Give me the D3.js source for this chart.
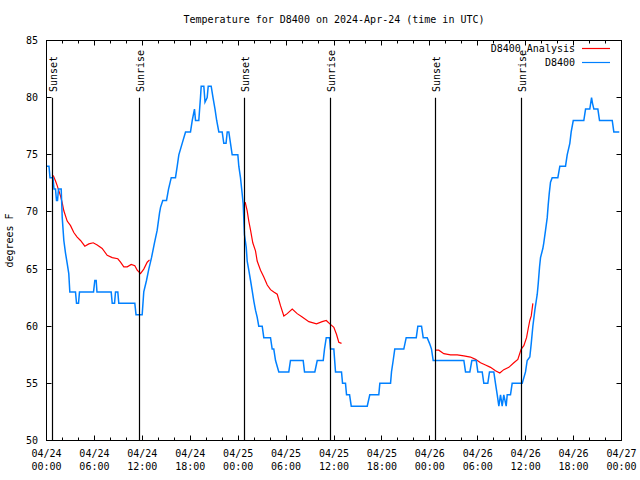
<!DOCTYPE html>
<html><head><meta charset="utf-8">
<script src="https://cdn.jsdelivr.net/npm/d3@7"></script>
<style>
body{margin:0;background:#fff}
svg{display:block}
text{font-family:"DejaVu Sans Mono","Liberation Mono",monospace;font-size:10px;fill:#000}
</style>
</head><body>
<svg id="chart" width="640" height="480"></svg>
<script>
// ---------- data ----------
const chartTitle = "Temperature for D8400 on 2024-Apr-24 (time in UTC)";
const yAxisLabel = "degrees F";
const timeStart = "2024-04-24T00:00:00Z";
const timeEnd = "2024-04-27T00:00:00Z";
const yDomain = [50, 85];
const yTickValues = [50, 55, 60, 65, 70, 75, 80, 85];
const seriesNames = ["D8400_Analysis", "D8400"];
const seriesColors = ["#ff0000", "#0080ff"];

// observed D8400 temperatures (hours since 04/24 00:00 UTC, deg F)
const obsHours = [0.00,0.31,0.44,0.81,0.94,1.13,1.25,1.38,1.50,1.84,1.97,2.17,2.38,2.59,2.79,2.92,3.63,3.76,4.01,4.13,
  5.89,6.05,6.22,6.32,8.10,8.23,8.52,8.64,8.93,9.05,11.06,11.21,11.98,12.18,12.52,12.81,13.15,13.52,13.86,14.15,
  14.28,14.56,15.03,15.28,15.62,16.15,16.37,16.57,16.99,17.41,18.03,18.25,18.53,18.66,19.07,19.28,19.37,19.70,19.85,20.12,
  20.25,20.62,20.85,21.10,21.31,21.58,22.00,22.20,22.48,22.63,22.83,23.04,23.25,23.96,24.08,24.29,24.50,24.63,24.79,25.01,
  25.13,25.33,25.55,25.76,25.96,26.17,26.38,26.58,27.01,27.21,28.05,28.26,28.46,28.68,29.09,30.34,30.55,32.14,32.31,33.60,
  33.90,34.65,34.81,35.03,35.44,35.56,35.98,36.19,36.94,37.07,37.44,37.57,37.95,38.16,40.16,40.48,41.61,41.74,43.08,43.20,
  43.41,43.61,44.74,45.04,46.30,46.50,46.96,47.17,47.67,47.96,48.21,48.42,52.26,52.47,53.01,53.26,53.81,54.01,54.56,54.76,
  55.26,55.47,56.01,56.22,56.44,56.64,56.85,57.06,57.26,57.56,57.69,58.10,58.31,59.57,59.98,60.19,60.52,60.70,60.90,61.15,
  61.45,61.57,61.74,61.86,62.15,62.27,62.49,62.70,62.82,62.95,63.11,63.32,64.03,64.28,64.99,65.20,65.53,65.70,65.96,67.28,
  67.50,68.03,68.25,68.37,68.54,69.04,69.25,70.84,71.04,71.72];
const obsTemps = [74,74,73,73,72,72,71,71,72,72,69.5,67.5,66.4,65.5,64.6,63,63,62,62,63,
  63,64,64,63,63,62,62,63,63,62,62,61,61,63,64,65,66,67.3,68.4,69.9,
  70.4,71,71,72,73,73,74,75,76,77,77,78,79,78,78,80,81,81,79.6,80,
  81,81,80,79,78,77,77,76,76,77,77,76,75,75,74,73,71.6,70.7,68,66.9,
  65.7,64.9,64,63.1,62.2,61.4,60.8,60,60,59,59,58,58,57,56,56,57,57,56,56,
  57,57,58,59,59,58,58,56,56,55,55,54,54,53,53,54,54,55,55,56,
  57,58,58,59,59,60,60,59,59,58.5,58,57,57,56,56,57,57,56,56,55,
  55,56,56,55,54,53,54,53,54,53,54,54,55,55,56,57,57.3,58.5,60,61.4,
  62.8,63.7,65.2,66,66.8,67.3,68.4,69.5,70.6,71.6,72.6,73,73,74,74,75,76,77,78,78,
  79,79,80,79.5,79,79,78,78,77,77];

// analysis temperatures (null = gap)
const anaHours = [0.84,1.13,1.34,1.75,1.97,2.17,2.59,3.01,3.42,3.84,4.26,4.80,5.30,5.85,6.35,6.97,7.60,8.23,8.93,9.27,
  9.68,10.11,10.61,11.06,11.36,11.77,12.18,12.61,12.90,18.0,
  24.88,25.13,25.33,25.55,25.83,26.17,26.38,26.80,27.21,27.64,28.05,28.46,28.89,29.30,29.72,30.14,30.77,31.39,32.02,32.85,
  33.81,34.52,35.03,35.48,35.98,36.31,36.60,36.94,42.0,
  48.75,49.12,49.75,50.59,51.43,52.26,53.09,53.72,54.35,54.97,55.60,56.22,56.76,57.26,57.89,58.52,59.02,59.44,59.77,60.11,
  60.32,60.52,60.70,60.90];
const anaTemps = [73.2,72.7,72.3,71.4,70.8,70.1,69.2,68.8,68.2,67.8,67.5,67.0,67.2,67.3,67.1,66.8,66.2,66.0,65.9,65.6,
  65.2,65.2,65.4,65.3,64.9,64.6,65,65.6,65.8,null,
  70.85,70.1,69.2,68.4,67.3,66.6,65.7,64.9,64.3,63.6,63.2,63.0,62.8,61.8,60.9,61.1,61.5,61.1,60.8,60.4,
  60.2,60.4,60.5,60.2,59.9,59.3,58.6,58.5,null,
  57.9,57.9,57.6,57.5,57.5,57.4,57.3,57.1,56.8,56.6,56.4,56.1,55.9,56.2,56.4,56.8,57.1,58,58.3,59,
  59.8,60.5,60.9,62];

// sunrise / sunset events
const sunTimes = ["2024-04-24T00:47:00Z","2024-04-24T11:35:00Z","2024-04-25T00:48:00Z",
                  "2024-04-25T11:30:00Z","2024-04-26T00:46:00Z","2024-04-26T11:31:00Z"];
const sunLabels = ["Sunset","Sunrise","Sunset","Sunrise","Sunset","Sunrise"];
const sunLineTop = 80;

// ---------- chart ----------
const svg = d3.select("#chart");
const L = 46.5, R = 621.5, T = 40.5, B = 440.5;
const t0 = new Date(timeStart), t1 = new Date(timeEnd);
const hourToDate = h => new Date(t0.getTime() + h * 3600e3);
const x = d3.scaleUtc().domain([t0, t1]).range([L, R]);
const y = d3.scaleLinear().domain(yDomain).range([B, T]);

// title
svg.append("text").attr("x", (L + R) / 2).attr("y", 23).attr("text-anchor", "middle").text(chartTitle);
// y label
svg.append("text").attr("transform", `translate(13,${(T + B) / 2}) rotate(-90)`)
  .attr("text-anchor", "middle").text(yAxisLabel);

const g = svg.append("g");
const majorLen = 5, minorLen = 3;

// y ticks + labels
yTickValues.forEach(v => {
  const yy = Math.round(y(v) - 0.5) + 0.5;
  g.append("line").attr("x1", L).attr("x2", L + majorLen).attr("y1", yy).attr("y2", yy).attr("stroke", "#000");
  g.append("line").attr("x1", R - majorLen).attr("x2", R).attr("y1", yy).attr("y2", yy).attr("stroke", "#000");
  g.append("text").attr("x", 38).attr("y", yy).attr("dy", "0.35em").attr("text-anchor", "end").text(v);
});

// x ticks
const minorTicks = d3.utcHour.every(2).range(t0, d3.utcHour.offset(t1, 1));
minorTicks.forEach(d => {
  const xx = Math.round(x(d) - 0.5) + 0.5;
  const major = d.getUTCHours() % 6 === 0;
  const len = major ? majorLen : minorLen;
  g.append("line").attr("x1", xx).attr("x2", xx).attr("y1", B).attr("y2", B - len).attr("stroke", "#000");
  g.append("line").attr("x1", xx).attr("x2", xx).attr("y1", T).attr("y2", T + len).attr("stroke", "#000");
});
const fmtDate = d3.utcFormat("%m/%d"), fmtTime = d3.utcFormat("%H:%M");
x.ticks(d3.utcHour.every(6)).forEach(d => {
  const xx = x(d);
  g.append("text").attr("x", xx).attr("y", 457).attr("text-anchor", "middle").text(fmtDate(d));
  g.append("text").attr("x", xx).attr("y", 470).attr("text-anchor", "middle").text(fmtTime(d));
});

// series
const anaData = anaHours.map((h, i) => ({ t: hourToDate(h), v: anaTemps[i] }));
const obsData = obsHours.map((h, i) => ({ t: hourToDate(h), v: obsTemps[i] }));
const line = d3.line().defined(d => d.v !== null).x(d => x(d.t)).y(d => y(d.v));

svg.append("path").datum(anaData).attr("d", line).attr("fill", "none")
  .attr("stroke", seriesColors[0]).attr("stroke-width", 1.2);
svg.append("path").datum(obsData).attr("d", line).attr("fill", "none")
  .attr("stroke", seriesColors[1]).attr("stroke-width", 1.5);

// sun lines
sunTimes.forEach((s, i) => {
  const xx = Math.round(x(new Date(s)) - 0.5) + 0.5;
  svg.append("line").attr("x1", xx).attr("x2", xx).attr("y1", y(sunLineTop)).attr("y2", B)
    .attr("stroke", "#000").attr("stroke-width", 1.2);
  svg.append("text").attr("transform", `translate(${xx + 4.5},92) rotate(-90)`)
    .attr("text-anchor", "start").text(sunLabels[i]);
});

// frame
svg.append("rect").attr("x", L).attr("y", T).attr("width", R - L).attr("height", B - T)
  .attr("fill", "none").attr("stroke", "#000");

// legend
const legendY = [48.5, 62.5];
seriesNames.forEach((n, i) => {
  svg.append("text").attr("x", 575).attr("y", legendY[i]).attr("dy", "0.35em")
    .attr("text-anchor", "end").text(n);
  svg.append("line").attr("x1", 582).attr("x2", 610).attr("y1", legendY[i]).attr("y2", legendY[i])
    .attr("stroke", seriesColors[i]).attr("stroke-width", 1.2);
});
</script>
</body></html>
